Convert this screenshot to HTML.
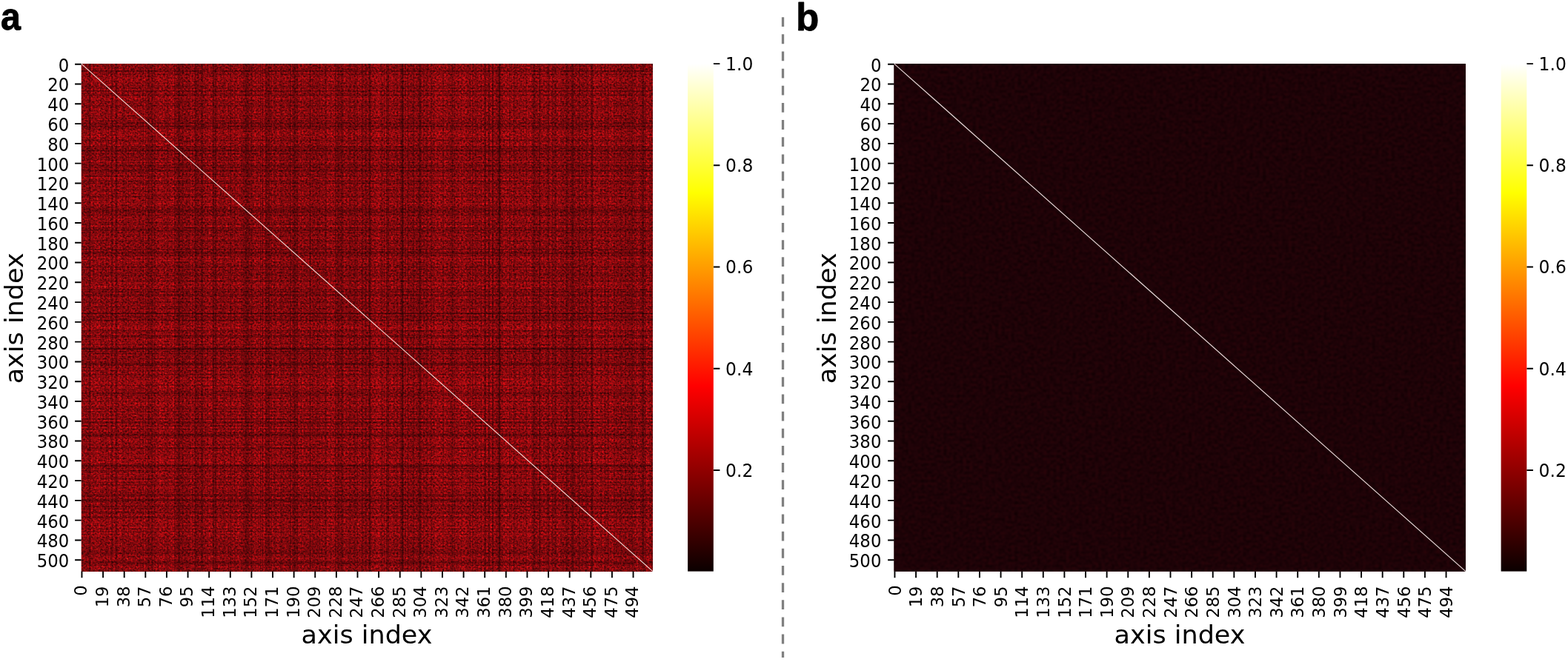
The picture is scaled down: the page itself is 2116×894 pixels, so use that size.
<!DOCTYPE html>
<html lang="en">
<head>
<meta charset="utf-8">
<title>Axis similarity heatmaps</title>
<style>
html,body{margin:0;padding:0;background:#fff;}
body{width:2116px;height:894px;overflow:hidden;font-family:"Liberation Sans",sans-serif;}
svg{display:block;}
</style>
</head>
<body>
<svg width="2116" height="894" viewBox="0 0 2116 894">
<defs>
<linearGradient id="hot" x1="0" y1="1" x2="0" y2="0">
<stop offset="0" stop-color="rgb(11,0,0)"/>
<stop offset="0.365" stop-color="rgb(255,0,0)"/>
<stop offset="0.746" stop-color="rgb(255,255,0)"/>
<stop offset="1" stop-color="rgb(255,255,255)"/>
</linearGradient>
<filter id="na" filterUnits="userSpaceOnUse" x="109.7" y="86.1" width="771.2" height="685.5" color-interpolation-filters="sRGB">
<feTurbulence type="fractalNoise" baseFrequency="0.39 0.43" numOctaves="2" seed="7" stitchTiles="noStitch"/>
<feColorMatrix type="matrix" values="0.44 0 0 0 0.018 0.44 0 0 0 0.018 0.44 0 0 0 0.018 0 0 0 0 1"/>
<feComponentTransfer result="base"><feFuncR type="table" tableValues="0.042 0.083 0.124 0.165 0.206 0.247 0.288 0.329 0.37 0.411 0.452 0.493 0.534 0.575 0.616 0.657 0.698 0.739 0.78 0.821 0.862 0.903 0.944 0.985 1 1 1 1 1 1 1 1 1 1 1 1 1 1 1 1 1 1 1 1 1 1 1 1 1 1 1 1 1 1 1 1 1 1 1 1 1 1 1 1 1"/><feFuncG type="table" tableValues="0 0.003 0.006 0.009 0.013 0.016 0.019 0.022 0.025 0.028 0.031 0.034 0.038 0.041 0.044 0.047 0.05 0.05 0.05 0.05 0.05 0.05 0.05 0.05 0.05 0.067 0.108 0.149 0.19 0.231 0.272 0.313 0.354 0.395 0.436 0.477 0.518 0.559 0.6 0.641 0.682 0.723 0.764 0.805 0.846 0.887 0.928 0.969 1 1 1 1 1 1 1 1 1 1 1 1 1 1 1 1 1"/><feFuncB type="table" tableValues="0 0.005 0.009 0.014 0.019 0.023 0.028 0.033 0.037 0.042 0.047 0.052 0.056 0.061 0.066 0.07 0.075 0.075 0.075 0.075 0.075 0.075 0.075 0.075 0.075 0.075 0.075 0.075 0.075 0.075 0.075 0.075 0.075 0.075 0.075 0.075 0.075 0.075 0.075 0.075 0.075 0.075 0.075 0.075 0.075 0.075 0.075 0.075 0.075 0.077 0.139 0.2 0.262 0.323 0.385 0.446 0.508 0.569 0.631 0.692 0.754 0.815 0.877 0.938 1"/></feComponentTransfer>
<feComposite in="base" in2="SourceGraphic" operator="arithmetic" k1="1" k2="0" k3="0" k4="0" result="mul"/>
<feTurbulence type="fractalNoise" baseFrequency="0.27 0.3" numOctaves="1" seed="23" result="t2"/>
<feColorMatrix in="t2" type="matrix" values="0 0 0 0 1 0 0 0 0 0.22 0 0 0 0 0.14 5 0 0 0 -3.62" result="sp"/>
<feMerge result="mg"><feMergeNode in="mul"/><feMergeNode in="sp"/></feMerge>
<feGaussianBlur in="mg" stdDeviation="0.55"/>
</filter>
<filter id="nb" filterUnits="userSpaceOnUse" x="1206.7" y="86.1" width="771.2" height="685.5" color-interpolation-filters="sRGB">
<feTurbulence type="fractalNoise" baseFrequency="0.23 0.27" numOctaves="2" seed="11" stitchTiles="noStitch"/>
<feColorMatrix type="matrix" values="0.07 0 0 0 -0.006 0.07 0 0 0 -0.006 0.07 0 0 0 -0.006 0 0 0 0 1"/>
<feComponentTransfer result="base"><feFuncR type="table" tableValues="0.042 0.083 0.124 0.165 0.206 0.247 0.288 0.329 0.37 0.411 0.452 0.493 0.534 0.575 0.616 0.657 0.698 0.739 0.78 0.821 0.862 0.903 0.944 0.985 1 1 1 1 1 1 1 1 1 1 1 1 1 1 1 1 1 1 1 1 1 1 1 1 1 1 1 1 1 1 1 1 1 1 1 1 1 1 1 1 1"/><feFuncG type="table" tableValues="0 0.006 0.012 0.012 0.012 0.012 0.012 0.012 0.012 0.012 0.012 0.012 0.012 0.012 0.012 0.012 0.012 0.012 0.012 0.012 0.012 0.012 0.012 0.012 0.026 0.067 0.108 0.149 0.19 0.231 0.272 0.313 0.354 0.395 0.436 0.477 0.518 0.559 0.6 0.641 0.682 0.723 0.764 0.805 0.846 0.887 0.928 0.969 1 1 1 1 1 1 1 1 1 1 1 1 1 1 1 1 1"/><feFuncB type="table" tableValues="0 0.019 0.035 0.035 0.035 0.035 0.035 0.035 0.035 0.035 0.035 0.035 0.035 0.035 0.035 0.035 0.035 0.035 0.035 0.035 0.035 0.035 0.035 0.035 0.035 0.035 0.035 0.035 0.035 0.035 0.035 0.035 0.035 0.035 0.035 0.035 0.035 0.035 0.035 0.035 0.035 0.035 0.035 0.035 0.035 0.035 0.035 0.035 0.035 0.077 0.139 0.2 0.262 0.323 0.385 0.446 0.508 0.569 0.631 0.692 0.754 0.815 0.877 0.938 1"/></feComponentTransfer>
<feGaussianBlur in="base" stdDeviation="0.8"/>
</filter>
</defs>
<rect width="2116" height="894" fill="#fff"/>
<g font-family='"Liberation Sans", sans-serif' font-weight="bold" font-size="52" fill="#000" stroke="#000" stroke-width="0.9" stroke-linejoin="round">
<text transform="translate(1.1,40.4) scale(0.93,1)">a</text>
<text transform="translate(1074.3,40.5) scale(0.975,1)">b</text>
</g>
<line x1="1056.5" y1="23.2" x2="1056.5" y2="888.1" stroke="#808080" stroke-width="3.3" stroke-dasharray="12.8 10.35"/>
<g id="panel-a">
<rect x="109.7" y="86.1" width="771.2" height="685.5" fill="#8c0d10"/>
<g filter="url(#na)" shape-rendering="crispEdges"><rect x="109.7" y="86.1" width="771.2" height="685.5" fill="#fff"/>
<path d="M130.79 86.1h3.01v685.5h-3.01zM159.41 86.1h1.51v685.5h-1.51zM162.42 86.1h1.51v685.5h-1.51zM183.51 86.1h1.51v685.5h-1.51zM213.63 86.1h1.51v685.5h-1.51zM216.64 86.1h1.51v685.5h-1.51zM230.2 86.1h3.01v685.5h-3.01zM284.43 86.1h1.51v685.5h-1.51zM308.53 86.1h1.51v685.5h-1.51zM314.55 86.1h1.51v685.5h-1.51zM317.56 86.1h1.51v685.5h-1.51zM322.08 86.1h1.51v685.5h-1.51zM343.17 86.1h1.51v685.5h-1.51zM349.19 86.1h1.51v685.5h-1.51zM356.73 86.1h1.51v685.5h-1.51zM367.27 86.1h1.51v685.5h-1.51zM374.8 86.1h1.51v685.5h-1.51zM383.84 86.1h1.51v685.5h-1.51zM403.42 86.1h1.51v685.5h-1.51zM436.56 86.1h1.51v685.5h-1.51zM441.07 86.1h1.51v685.5h-1.51zM450.11 86.1h1.51v685.5h-1.51zM483.25 86.1h1.51v685.5h-1.51zM486.26 86.1h1.51v685.5h-1.51zM507.35 86.1h1.51v685.5h-1.51zM516.39 86.1h1.51v685.5h-1.51zM528.44 86.1h1.51v685.5h-1.51zM532.96 86.1h1.51v685.5h-1.51zM537.48 86.1h1.51v685.5h-1.51zM548.02 86.1h1.51v685.5h-1.51zM578.14 86.1h1.51v685.5h-1.51zM588.69 86.1h1.51v685.5h-1.51zM593.21 86.1h1.51v685.5h-1.51zM600.74 86.1h1.51v685.5h-1.51zM618.81 86.1h1.51v685.5h-1.51zM623.33 86.1h4.52v685.5h-4.52zM635.38 86.1h1.51v685.5h-1.51zM639.9 86.1h1.51v685.5h-1.51zM660.99 86.1h1.51v685.5h-1.51zM665.51 86.1h1.51v685.5h-1.51zM679.06 86.1h4.52v685.5h-4.52zM704.67 86.1h1.51v685.5h-1.51zM712.2 86.1h3.01v685.5h-3.01zM751.36 86.1h1.51v685.5h-1.51zM754.38 86.1h1.51v685.5h-1.51zM761.91 86.1h1.51v685.5h-1.51zM767.93 86.1h1.51v685.5h-1.51zM787.51 86.1h1.51v685.5h-1.51zM793.54 86.1h3.01v685.5h-3.01zM802.58 86.1h1.51v685.5h-1.51zM807.09 86.1h3.01v685.5h-3.01zM817.64 86.1h1.51v685.5h-1.51zM825.17 86.1h3.01v685.5h-3.01zM873.37 86.1h1.51v685.5h-1.51z" fill-opacity="0.04"/>
<path d="M109.7 104.84h771.2v2.68h-771.2zM109.7 130.28h771.2v1.34h-771.2zM109.7 132.96h771.2v1.34h-771.2zM109.7 151.7h771.2v1.34h-771.2zM109.7 178.48h771.2v1.34h-771.2zM109.7 181.16h771.2v1.34h-771.2zM109.7 193.21h771.2v2.68h-771.2zM109.7 241.41h771.2v1.34h-771.2zM109.7 262.83h771.2v1.34h-771.2zM109.7 268.19h771.2v1.34h-771.2zM109.7 270.86h771.2v1.34h-771.2zM109.7 274.88h771.2v1.34h-771.2zM109.7 293.62h771.2v1.34h-771.2zM109.7 298.98h771.2v1.34h-771.2zM109.7 305.67h771.2v1.34h-771.2zM109.7 315.05h771.2v1.34h-771.2zM109.7 321.74h771.2v1.34h-771.2zM109.7 329.77h771.2v1.34h-771.2zM109.7 347.18h771.2v1.34h-771.2zM109.7 376.63h771.2v1.34h-771.2zM109.7 380.65h771.2v1.34h-771.2zM109.7 388.68h771.2v1.34h-771.2zM109.7 418.14h771.2v1.34h-771.2zM109.7 420.82h771.2v1.34h-771.2zM109.7 439.56h771.2v1.34h-771.2zM109.7 447.59h771.2v1.34h-771.2zM109.7 458.31h771.2v1.34h-771.2zM109.7 462.32h771.2v1.34h-771.2zM109.7 466.34h771.2v1.34h-771.2zM109.7 475.71h771.2v1.34h-771.2zM109.7 502.49h771.2v1.34h-771.2zM109.7 511.86h771.2v1.34h-771.2zM109.7 515.88h771.2v1.34h-771.2zM109.7 522.57h771.2v1.34h-771.2zM109.7 538.64h771.2v1.34h-771.2zM109.7 542.65h771.2v4.02h-771.2zM109.7 553.36h771.2v1.34h-771.2zM109.7 557.38h771.2v1.34h-771.2zM109.7 576.13h771.2v1.34h-771.2zM109.7 580.14h771.2v1.34h-771.2zM109.7 592.19h771.2v4.02h-771.2zM109.7 614.95h771.2v1.34h-771.2zM109.7 621.65h771.2v2.68h-771.2zM109.7 656.46h771.2v1.34h-771.2zM109.7 659.14h771.2v1.34h-771.2zM109.7 665.83h771.2v1.34h-771.2zM109.7 671.18h771.2v1.34h-771.2zM109.7 688.59h771.2v1.34h-771.2zM109.7 693.95h771.2v2.68h-771.2zM109.7 701.98h771.2v1.34h-771.2zM109.7 706h771.2v2.68h-771.2zM109.7 715.37h771.2v1.34h-771.2zM109.7 722.06h771.2v2.68h-771.2zM109.7 764.91h771.2v1.34h-771.2z" fill-opacity="0.04"/>
<path d="M114.22 86.1h1.51v685.5h-1.51zM126.27 86.1h4.52v685.5h-4.52zM136.81 86.1h1.51v685.5h-1.51zM163.93 86.1h1.51v685.5h-1.51zM171.46 86.1h1.51v685.5h-1.51zM174.47 86.1h1.51v685.5h-1.51zM177.48 86.1h1.51v685.5h-1.51zM182 86.1h1.51v685.5h-1.51zM186.52 86.1h1.51v685.5h-1.51zM189.53 86.1h1.51v685.5h-1.51zM201.58 86.1h1.51v685.5h-1.51zM218.15 86.1h1.51v685.5h-1.51zM222.67 86.1h1.51v685.5h-1.51zM227.19 86.1h3.01v685.5h-3.01zM260.32 86.1h1.51v685.5h-1.51zM278.4 86.1h1.51v685.5h-1.51zM282.92 86.1h1.51v685.5h-1.51zM293.46 86.1h1.51v685.5h-1.51zM304.01 86.1h1.51v685.5h-1.51zM313.04 86.1h1.51v685.5h-1.51zM323.59 86.1h1.51v685.5h-1.51zM341.66 86.1h1.51v685.5h-1.51zM346.18 86.1h1.51v685.5h-1.51zM352.21 86.1h1.51v685.5h-1.51zM373.29 86.1h1.51v685.5h-1.51zM376.31 86.1h1.51v685.5h-1.51zM404.93 86.1h1.51v685.5h-1.51zM415.47 86.1h1.51v685.5h-1.51zM424.51 86.1h1.51v685.5h-1.51zM432.04 86.1h1.51v685.5h-1.51zM444.09 86.1h1.51v685.5h-1.51zM448.61 86.1h1.51v685.5h-1.51zM465.18 86.1h1.51v685.5h-1.51zM468.19 86.1h1.51v685.5h-1.51zM475.72 86.1h1.51v685.5h-1.51zM495.3 86.1h1.51v685.5h-1.51zM501.32 86.1h6.03v685.5h-6.03zM525.43 86.1h3.01v685.5h-3.01zM529.94 86.1h1.51v685.5h-1.51zM538.98 86.1h1.51v685.5h-1.51zM545.01 86.1h1.51v685.5h-1.51zM560.07 86.1h1.51v685.5h-1.51zM569.11 86.1h1.51v685.5h-1.51zM573.62 86.1h1.51v685.5h-1.51zM579.65 86.1h1.51v685.5h-1.51zM582.66 86.1h1.51v685.5h-1.51zM590.19 86.1h1.51v685.5h-1.51zM602.24 86.1h1.51v685.5h-1.51zM614.29 86.1h1.51v685.5h-1.51zM647.43 86.1h1.51v685.5h-1.51zM667.01 86.1h1.51v685.5h-1.51zM689.61 86.1h1.51v685.5h-1.51zM697.14 86.1h1.51v685.5h-1.51zM703.16 86.1h1.51v685.5h-1.51zM730.28 86.1h1.51v685.5h-1.51zM746.84 86.1h1.51v685.5h-1.51zM752.87 86.1h1.51v685.5h-1.51zM776.97 86.1h1.51v685.5h-1.51zM782.99 86.1h1.51v685.5h-1.51zM804.08 86.1h1.51v685.5h-1.51zM829.69 86.1h1.51v685.5h-1.51zM841.74 86.1h1.51v685.5h-1.51zM856.8 86.1h1.51v685.5h-1.51zM861.32 86.1h1.51v685.5h-1.51zM874.88 86.1h1.51v685.5h-1.51z" fill-opacity="0.08"/>
<path d="M109.7 90.12h771.2v1.34h-771.2zM109.7 100.83h771.2v4.02h-771.2zM109.7 110.2h771.2v1.34h-771.2zM109.7 134.3h771.2v1.34h-771.2zM109.7 140.99h771.2v1.34h-771.2zM109.7 143.67h771.2v1.34h-771.2zM109.7 146.35h771.2v1.34h-771.2zM109.7 150.37h771.2v1.34h-771.2zM109.7 154.38h771.2v1.34h-771.2zM109.7 157.06h771.2v1.34h-771.2zM109.7 167.77h771.2v1.34h-771.2zM109.7 182.5h771.2v1.34h-771.2zM109.7 186.52h771.2v1.34h-771.2zM109.7 190.53h771.2v2.68h-771.2zM109.7 219.99h771.2v1.34h-771.2zM109.7 236.05h771.2v1.34h-771.2zM109.7 240.07h771.2v1.34h-771.2zM109.7 249.44h771.2v1.34h-771.2zM109.7 258.81h771.2v1.34h-771.2zM109.7 266.85h771.2v1.34h-771.2zM109.7 276.22h771.2v1.34h-771.2zM109.7 292.29h771.2v1.34h-771.2zM109.7 296.3h771.2v1.34h-771.2zM109.7 301.66h771.2v1.34h-771.2zM109.7 320.4h771.2v1.34h-771.2zM109.7 323.08h771.2v1.34h-771.2zM109.7 348.52h771.2v1.34h-771.2zM109.7 357.89h771.2v1.34h-771.2zM109.7 365.92h771.2v1.34h-771.2zM109.7 372.62h771.2v1.34h-771.2zM109.7 383.33h771.2v1.34h-771.2zM109.7 387.35h771.2v1.34h-771.2zM109.7 402.07h771.2v1.34h-771.2zM109.7 404.75h771.2v1.34h-771.2zM109.7 411.44h771.2v1.34h-771.2zM109.7 428.85h771.2v1.34h-771.2zM109.7 434.21h771.2v5.36h-771.2zM109.7 455.63h771.2v2.68h-771.2zM109.7 459.64h771.2v1.34h-771.2zM109.7 467.68h771.2v1.34h-771.2zM109.7 473.03h771.2v1.34h-771.2zM109.7 486.42h771.2v1.34h-771.2zM109.7 494.45h771.2v1.34h-771.2zM109.7 498.47h771.2v1.34h-771.2zM109.7 503.83h771.2v1.34h-771.2zM109.7 506.5h771.2v1.34h-771.2zM109.7 513.2h771.2v1.34h-771.2zM109.7 523.91h771.2v1.34h-771.2zM109.7 534.62h771.2v1.34h-771.2zM109.7 564.08h771.2v1.34h-771.2zM109.7 581.48h771.2v1.34h-771.2zM109.7 601.56h771.2v1.34h-771.2zM109.7 608.26h771.2v1.34h-771.2zM109.7 613.61h771.2v1.34h-771.2zM109.7 637.71h771.2v1.34h-771.2zM109.7 652.44h771.2v1.34h-771.2zM109.7 657.8h771.2v1.34h-771.2zM109.7 679.22h771.2v1.34h-771.2zM109.7 684.57h771.2v1.34h-771.2zM109.7 703.32h771.2v1.34h-771.2zM109.7 726.08h771.2v1.34h-771.2zM109.7 736.79h771.2v1.34h-771.2zM109.7 750.18h771.2v1.34h-771.2zM109.7 754.19h771.2v1.34h-771.2zM109.7 766.24h771.2v1.34h-771.2z" fill-opacity="0.08"/>
<path d="M117.23 86.1h1.51v685.5h-1.51zM141.33 86.1h1.51v685.5h-1.51zM144.34 86.1h1.51v685.5h-1.51zM148.86 86.1h1.51v685.5h-1.51zM151.88 86.1h1.51v685.5h-1.51zM166.94 86.1h4.52v685.5h-4.52zM175.98 86.1h1.51v685.5h-1.51zM178.99 86.1h3.01v685.5h-3.01zM185.01 86.1h1.51v685.5h-1.51zM191.04 86.1h1.51v685.5h-1.51zM197.06 86.1h1.51v685.5h-1.51zM206.1 86.1h1.51v685.5h-1.51zM209.11 86.1h1.51v685.5h-1.51zM212.12 86.1h1.51v685.5h-1.51zM221.16 86.1h1.51v685.5h-1.51zM224.18 86.1h1.51v685.5h-1.51zM243.76 86.1h1.51v685.5h-1.51zM248.28 86.1h1.51v685.5h-1.51zM267.86 86.1h3.01v685.5h-3.01zM273.88 86.1h4.52v685.5h-4.52zM285.93 86.1h1.51v685.5h-1.51zM297.98 86.1h3.01v685.5h-3.01zM319.07 86.1h1.51v685.5h-1.51zM326.6 86.1h1.51v685.5h-1.51zM344.68 86.1h1.51v685.5h-1.51zM371.79 86.1h1.51v685.5h-1.51zM380.82 86.1h1.51v685.5h-1.51zM386.85 86.1h1.51v685.5h-1.51zM401.91 86.1h1.51v685.5h-1.51zM409.44 86.1h4.52v685.5h-4.52zM435.05 86.1h1.51v685.5h-1.51zM457.64 86.1h1.51v685.5h-1.51zM469.69 86.1h1.51v685.5h-1.51zM474.21 86.1h1.51v685.5h-1.51zM484.76 86.1h1.51v685.5h-1.51zM513.38 86.1h1.51v685.5h-1.51zM551.03 86.1h3.01v685.5h-3.01zM555.55 86.1h1.51v685.5h-1.51zM558.56 86.1h1.51v685.5h-1.51zM572.12 86.1h1.51v685.5h-1.51zM584.17 86.1h3.01v685.5h-3.01zM596.22 86.1h1.51v685.5h-1.51zM603.75 86.1h4.52v685.5h-4.52zM615.8 86.1h3.01v685.5h-3.01zM629.36 86.1h4.52v685.5h-4.52zM638.39 86.1h1.51v685.5h-1.51zM642.91 86.1h3.01v685.5h-3.01zM657.98 86.1h1.51v685.5h-1.51zM668.52 86.1h1.51v685.5h-1.51zM676.05 86.1h3.01v685.5h-3.01zM683.58 86.1h1.51v685.5h-1.51zM688.1 86.1h1.51v685.5h-1.51zM695.63 86.1h1.51v685.5h-1.51zM700.15 86.1h3.01v685.5h-3.01zM706.18 86.1h1.51v685.5h-1.51zM716.72 86.1h1.51v685.5h-1.51zM733.29 86.1h1.51v685.5h-1.51zM736.3 86.1h1.51v685.5h-1.51zM740.82 86.1h1.51v685.5h-1.51zM743.83 86.1h1.51v685.5h-1.51zM755.88 86.1h1.51v685.5h-1.51zM758.89 86.1h1.51v685.5h-1.51zM778.48 86.1h1.51v685.5h-1.51zM805.59 86.1h1.51v685.5h-1.51zM823.66 86.1h1.51v685.5h-1.51zM832.7 86.1h4.52v685.5h-4.52zM838.73 86.1h3.01v685.5h-3.01zM844.75 86.1h1.51v685.5h-1.51zM858.31 86.1h1.51v685.5h-1.51zM862.83 86.1h1.51v685.5h-1.51zM877.89 86.1h1.51v685.5h-1.51z" fill-opacity="0.12"/>
<path d="M109.7 92.79h771.2v1.34h-771.2zM109.7 114.22h771.2v1.34h-771.2zM109.7 116.89h771.2v1.34h-771.2zM109.7 120.91h771.2v1.34h-771.2zM109.7 123.59h771.2v1.34h-771.2zM109.7 136.98h771.2v4.02h-771.2zM109.7 145.01h771.2v1.34h-771.2zM109.7 147.69h771.2v2.68h-771.2zM109.7 153.04h771.2v1.34h-771.2zM109.7 158.4h771.2v1.34h-771.2zM109.7 163.75h771.2v1.34h-771.2zM109.7 171.79h771.2v1.34h-771.2zM109.7 174.47h771.2v1.34h-771.2zM109.7 177.14h771.2v1.34h-771.2zM109.7 185.18h771.2v1.34h-771.2zM109.7 187.85h771.2v1.34h-771.2zM109.7 205.26h771.2v1.34h-771.2zM109.7 209.28h771.2v1.34h-771.2zM109.7 226.68h771.2v2.68h-771.2zM109.7 232.04h771.2v4.02h-771.2zM109.7 242.75h771.2v1.34h-771.2zM109.7 253.46h771.2v2.68h-771.2zM109.7 272.2h771.2v1.34h-771.2zM109.7 278.9h771.2v1.34h-771.2zM109.7 294.96h771.2v1.34h-771.2zM109.7 319.06h771.2v1.34h-771.2zM109.7 327.1h771.2v1.34h-771.2zM109.7 332.45h771.2v1.34h-771.2zM109.7 345.84h771.2v1.34h-771.2zM109.7 352.53h771.2v4.02h-771.2zM109.7 375.3h771.2v1.34h-771.2zM109.7 395.38h771.2v1.34h-771.2zM109.7 406.09h771.2v1.34h-771.2zM109.7 410.11h771.2v1.34h-771.2zM109.7 419.48h771.2v1.34h-771.2zM109.7 444.92h771.2v1.34h-771.2zM109.7 478.39h771.2v2.68h-771.2zM109.7 482.4h771.2v1.34h-771.2zM109.7 485.08h771.2v1.34h-771.2zM109.7 497.13h771.2v1.34h-771.2zM109.7 507.84h771.2v2.68h-771.2zM109.7 518.55h771.2v1.34h-771.2zM109.7 525.25h771.2v4.02h-771.2zM109.7 535.96h771.2v2.68h-771.2zM109.7 548.01h771.2v4.02h-771.2zM109.7 556.04h771.2v1.34h-771.2zM109.7 560.06h771.2v2.68h-771.2zM109.7 573.45h771.2v1.34h-771.2zM109.7 582.82h771.2v1.34h-771.2zM109.7 589.51h771.2v2.68h-771.2zM109.7 596.21h771.2v1.34h-771.2zM109.7 600.23h771.2v1.34h-771.2zM109.7 606.92h771.2v1.34h-771.2zM109.7 610.94h771.2v2.68h-771.2zM109.7 616.29h771.2v1.34h-771.2zM109.7 625.66h771.2v1.34h-771.2zM109.7 640.39h771.2v1.34h-771.2zM109.7 643.07h771.2v1.34h-771.2zM109.7 647.09h771.2v1.34h-771.2zM109.7 649.76h771.2v1.34h-771.2zM109.7 660.47h771.2v1.34h-771.2zM109.7 663.15h771.2v1.34h-771.2zM109.7 680.56h771.2v1.34h-771.2zM109.7 704.66h771.2v1.34h-771.2zM109.7 720.72h771.2v1.34h-771.2zM109.7 728.76h771.2v4.02h-771.2zM109.7 734.11h771.2v2.68h-771.2zM109.7 739.47h771.2v1.34h-771.2zM109.7 751.52h771.2v1.34h-771.2zM109.7 755.53h771.2v1.34h-771.2zM109.7 768.92h771.2v1.34h-771.2z" fill-opacity="0.12"/>
<path d="M111.21 86.1h3.01v685.5h-3.01zM115.73 86.1h1.51v685.5h-1.51zM118.74 86.1h1.51v685.5h-1.51zM121.75 86.1h1.51v685.5h-1.51zM135.31 86.1h1.51v685.5h-1.51zM138.32 86.1h1.51v685.5h-1.51zM154.89 86.1h1.51v685.5h-1.51zM157.9 86.1h1.51v685.5h-1.51zM236.23 86.1h3.01v685.5h-3.01zM249.78 86.1h1.51v685.5h-1.51zM252.79 86.1h3.01v685.5h-3.01zM261.83 86.1h1.51v685.5h-1.51zM288.94 86.1h1.51v685.5h-1.51zM291.96 86.1h1.51v685.5h-1.51zM296.48 86.1h1.51v685.5h-1.51zM302.5 86.1h1.51v685.5h-1.51zM307.02 86.1h1.51v685.5h-1.51zM311.54 86.1h1.51v685.5h-1.51zM325.09 86.1h1.51v685.5h-1.51zM335.64 86.1h3.01v685.5h-3.01zM340.16 86.1h1.51v685.5h-1.51zM347.69 86.1h1.51v685.5h-1.51zM364.26 86.1h1.51v685.5h-1.51zM368.77 86.1h1.51v685.5h-1.51zM382.33 86.1h1.51v685.5h-1.51zM385.34 86.1h1.51v685.5h-1.51zM388.36 86.1h3.01v685.5h-3.01zM398.9 86.1h1.51v685.5h-1.51zM406.43 86.1h1.51v685.5h-1.51zM413.96 86.1h1.51v685.5h-1.51zM423 86.1h1.51v685.5h-1.51zM426.01 86.1h1.51v685.5h-1.51zM429.03 86.1h1.51v685.5h-1.51zM433.54 86.1h1.51v685.5h-1.51zM445.59 86.1h1.51v685.5h-1.51zM453.12 86.1h1.51v685.5h-1.51zM466.68 86.1h1.51v685.5h-1.51zM472.71 86.1h1.51v685.5h-1.51zM480.24 86.1h1.51v685.5h-1.51zM531.45 86.1h1.51v685.5h-1.51zM534.46 86.1h1.51v685.5h-1.51zM554.04 86.1h1.51v685.5h-1.51zM563.08 86.1h1.51v685.5h-1.51zM576.64 86.1h1.51v685.5h-1.51zM611.28 86.1h1.51v685.5h-1.51zM694.13 86.1h1.51v685.5h-1.51zM722.74 86.1h3.01v685.5h-3.01zM737.81 86.1h1.51v685.5h-1.51zM757.39 86.1h1.51v685.5h-1.51zM760.4 86.1h1.51v685.5h-1.51zM769.44 86.1h1.51v685.5h-1.51zM775.46 86.1h1.51v685.5h-1.51zM779.98 86.1h1.51v685.5h-1.51zM786.01 86.1h1.51v685.5h-1.51zM789.02 86.1h1.51v685.5h-1.51zM792.03 86.1h1.51v685.5h-1.51zM799.56 86.1h1.51v685.5h-1.51zM810.11 86.1h3.01v685.5h-3.01zM814.63 86.1h1.51v685.5h-1.51zM831.19 86.1h1.51v685.5h-1.51zM846.26 86.1h1.51v685.5h-1.51zM850.78 86.1h1.51v685.5h-1.51zM853.79 86.1h3.01v685.5h-3.01zM864.33 86.1h1.51v685.5h-1.51zM868.85 86.1h1.51v685.5h-1.51zM876.38 86.1h1.51v685.5h-1.51z" fill-opacity="0.16"/>
<path d="M109.7 87.44h771.2v2.68h-771.2zM109.7 91.46h771.2v1.34h-771.2zM109.7 94.13h771.2v1.34h-771.2zM109.7 96.81h771.2v1.34h-771.2zM109.7 108.86h771.2v1.34h-771.2zM109.7 111.54h771.2v1.34h-771.2zM109.7 126.27h771.2v1.34h-771.2zM109.7 128.94h771.2v1.34h-771.2zM109.7 198.56h771.2v2.68h-771.2zM109.7 210.61h771.2v1.34h-771.2zM109.7 213.29h771.2v2.68h-771.2zM109.7 221.33h771.2v1.34h-771.2zM109.7 245.43h771.2v1.34h-771.2zM109.7 248.1h771.2v1.34h-771.2zM109.7 252.12h771.2v1.34h-771.2zM109.7 257.48h771.2v1.34h-771.2zM109.7 261.49h771.2v1.34h-771.2zM109.7 265.51h771.2v1.34h-771.2zM109.7 277.56h771.2v1.34h-771.2zM109.7 286.93h771.2v2.68h-771.2zM109.7 290.95h771.2v1.34h-771.2zM109.7 297.64h771.2v1.34h-771.2zM109.7 312.37h771.2v1.34h-771.2zM109.7 316.39h771.2v1.34h-771.2zM109.7 328.43h771.2v1.34h-771.2zM109.7 331.11h771.2v1.34h-771.2zM109.7 333.79h771.2v2.68h-771.2zM109.7 343.16h771.2v1.34h-771.2zM109.7 349.86h771.2v1.34h-771.2zM109.7 356.55h771.2v1.34h-771.2zM109.7 364.58h771.2v1.34h-771.2zM109.7 367.26h771.2v1.34h-771.2zM109.7 369.94h771.2v1.34h-771.2zM109.7 373.96h771.2v1.34h-771.2zM109.7 384.67h771.2v1.34h-771.2zM109.7 391.36h771.2v1.34h-771.2zM109.7 403.41h771.2v1.34h-771.2zM109.7 408.77h771.2v1.34h-771.2zM109.7 415.46h771.2v1.34h-771.2zM109.7 460.98h771.2v1.34h-771.2zM109.7 463.66h771.2v1.34h-771.2zM109.7 481.07h771.2v1.34h-771.2zM109.7 489.1h771.2v1.34h-771.2zM109.7 501.15h771.2v1.34h-771.2zM109.7 531.94h771.2v1.34h-771.2zM109.7 605.58h771.2v1.34h-771.2zM109.7 631.02h771.2v2.68h-771.2zM109.7 644.41h771.2v1.34h-771.2zM109.7 661.81h771.2v1.34h-771.2zM109.7 664.49h771.2v1.34h-771.2zM109.7 672.52h771.2v1.34h-771.2zM109.7 677.88h771.2v1.34h-771.2zM109.7 681.9h771.2v1.34h-771.2zM109.7 687.25h771.2v1.34h-771.2zM109.7 689.93h771.2v1.34h-771.2zM109.7 692.61h771.2v1.34h-771.2zM109.7 699.3h771.2v1.34h-771.2zM109.7 708.67h771.2v2.68h-771.2zM109.7 712.69h771.2v1.34h-771.2zM109.7 727.42h771.2v1.34h-771.2zM109.7 740.81h771.2v1.34h-771.2zM109.7 744.82h771.2v1.34h-771.2zM109.7 747.5h771.2v2.68h-771.2zM109.7 756.87h771.2v1.34h-771.2zM109.7 760.89h771.2v1.34h-771.2zM109.7 767.58h771.2v1.34h-771.2z" fill-opacity="0.16"/>
<path d="M109.7 86.1h1.51v685.5h-1.51zM124.76 86.1h1.51v685.5h-1.51zM145.85 86.1h1.51v685.5h-1.51zM165.43 86.1h1.51v685.5h-1.51zM188.03 86.1h1.51v685.5h-1.51zM195.56 86.1h1.51v685.5h-1.51zM246.77 86.1h1.51v685.5h-1.51zM251.29 86.1h1.51v685.5h-1.51zM258.82 86.1h1.51v685.5h-1.51zM264.84 86.1h1.51v685.5h-1.51zM300.99 86.1h1.51v685.5h-1.51zM316.06 86.1h1.51v685.5h-1.51zM328.11 86.1h3.01v685.5h-3.01zM359.74 86.1h1.51v685.5h-1.51zM370.28 86.1h1.51v685.5h-1.51zM379.32 86.1h1.51v685.5h-1.51zM394.38 86.1h1.51v685.5h-1.51zM421.49 86.1h1.51v685.5h-1.51zM459.15 86.1h1.51v685.5h-1.51zM462.16 86.1h1.51v685.5h-1.51zM478.73 86.1h1.51v685.5h-1.51zM489.28 86.1h1.51v685.5h-1.51zM496.81 86.1h1.51v685.5h-1.51zM499.82 86.1h1.51v685.5h-1.51zM561.58 86.1h1.51v685.5h-1.51zM567.6 86.1h1.51v685.5h-1.51zM608.27 86.1h1.51v685.5h-1.51zM612.79 86.1h1.51v685.5h-1.51zM621.83 86.1h1.51v685.5h-1.51zM641.41 86.1h1.51v685.5h-1.51zM670.03 86.1h1.51v685.5h-1.51zM709.19 86.1h1.51v685.5h-1.51zM718.23 86.1h1.51v685.5h-1.51zM721.24 86.1h1.51v685.5h-1.51zM728.77 86.1h1.51v685.5h-1.51zM766.43 86.1h1.51v685.5h-1.51zM773.96 86.1h1.51v685.5h-1.51zM816.13 86.1h1.51v685.5h-1.51zM819.14 86.1h3.01v685.5h-3.01zM828.18 86.1h1.51v685.5h-1.51zM847.76 86.1h3.01v685.5h-3.01zM870.36 86.1h1.51v685.5h-1.51zM879.39 86.1h1.51v685.5h-1.51z" fill-opacity="0.20"/>
<path d="M109.7 86.1h771.2v1.34h-771.2zM109.7 99.49h771.2v1.34h-771.2zM109.7 118.23h771.2v1.34h-771.2zM109.7 135.64h771.2v1.34h-771.2zM109.7 155.72h771.2v1.34h-771.2zM109.7 162.42h771.2v1.34h-771.2zM109.7 207.94h771.2v1.34h-771.2zM109.7 211.95h771.2v1.34h-771.2zM109.7 218.65h771.2v1.34h-771.2zM109.7 224h771.2v1.34h-771.2zM109.7 256.14h771.2v1.34h-771.2zM109.7 269.52h771.2v1.34h-771.2zM109.7 280.24h771.2v2.68h-771.2zM109.7 308.35h771.2v1.34h-771.2zM109.7 317.72h771.2v1.34h-771.2zM109.7 325.76h771.2v1.34h-771.2zM109.7 339.15h771.2v1.34h-771.2zM109.7 363.25h771.2v1.34h-771.2zM109.7 396.72h771.2v1.34h-771.2zM109.7 399.39h771.2v1.34h-771.2zM109.7 414.12h771.2v1.34h-771.2zM109.7 423.49h771.2v1.34h-771.2zM109.7 430.19h771.2v1.34h-771.2zM109.7 432.87h771.2v1.34h-771.2zM109.7 487.76h771.2v1.34h-771.2zM109.7 493.12h771.2v1.34h-771.2zM109.7 529.27h771.2v1.34h-771.2zM109.7 533.28h771.2v1.34h-771.2zM109.7 541.31h771.2v1.34h-771.2zM109.7 558.72h771.2v1.34h-771.2zM109.7 584.16h771.2v1.34h-771.2zM109.7 618.97h771.2v1.34h-771.2zM109.7 627h771.2v1.34h-771.2zM109.7 629.68h771.2v1.34h-771.2zM109.7 636.37h771.2v1.34h-771.2zM109.7 669.85h771.2v1.34h-771.2zM109.7 676.54h771.2v1.34h-771.2zM109.7 714.03h771.2v1.34h-771.2zM109.7 716.71h771.2v2.68h-771.2zM109.7 724.74h771.2v1.34h-771.2zM109.7 742.14h771.2v2.68h-771.2zM109.7 762.23h771.2v1.34h-771.2zM109.7 770.26h771.2v1.34h-771.2z" fill-opacity="0.20"/>
<path d="M142.84 86.1h1.51v685.5h-1.51zM172.96 86.1h1.51v685.5h-1.51zM192.54 86.1h1.51v685.5h-1.51zM198.57 86.1h1.51v685.5h-1.51zM203.09 86.1h1.51v685.5h-1.51zM207.61 86.1h1.51v685.5h-1.51zM225.68 86.1h1.51v685.5h-1.51zM239.24 86.1h1.51v685.5h-1.51zM242.25 86.1h1.51v685.5h-1.51zM255.81 86.1h1.51v685.5h-1.51zM266.35 86.1h1.51v685.5h-1.51zM279.91 86.1h1.51v685.5h-1.51zM310.03 86.1h1.51v685.5h-1.51zM350.7 86.1h1.51v685.5h-1.51zM365.76 86.1h1.51v685.5h-1.51zM377.81 86.1h1.51v685.5h-1.51zM416.98 86.1h1.51v685.5h-1.51zM427.52 86.1h1.51v685.5h-1.51zM430.53 86.1h1.51v685.5h-1.51zM438.06 86.1h3.01v685.5h-3.01zM454.63 86.1h1.51v685.5h-1.51zM471.2 86.1h1.51v685.5h-1.51zM477.23 86.1h1.51v685.5h-1.51zM481.74 86.1h1.51v685.5h-1.51zM492.29 86.1h1.51v685.5h-1.51zM517.89 86.1h1.51v685.5h-1.51zM520.91 86.1h1.51v685.5h-1.51zM535.97 86.1h1.51v685.5h-1.51zM540.49 86.1h1.51v685.5h-1.51zM543.5 86.1h1.51v685.5h-1.51zM546.51 86.1h1.51v685.5h-1.51zM570.61 86.1h1.51v685.5h-1.51zM575.13 86.1h1.51v685.5h-1.51zM581.16 86.1h1.51v685.5h-1.51zM671.53 86.1h1.51v685.5h-1.51zM674.54 86.1h1.51v685.5h-1.51zM686.59 86.1h1.51v685.5h-1.51zM745.34 86.1h1.51v685.5h-1.51zM748.35 86.1h3.01v685.5h-3.01zM784.5 86.1h1.51v685.5h-1.51zM796.55 86.1h1.51v685.5h-1.51zM837.22 86.1h1.51v685.5h-1.51zM843.24 86.1h1.51v685.5h-1.51z" fill-opacity="0.24"/>
<path d="M109.7 115.56h771.2v1.34h-771.2zM109.7 142.33h771.2v1.34h-771.2zM109.7 159.74h771.2v1.34h-771.2zM109.7 165.09h771.2v1.34h-771.2zM109.7 169.11h771.2v1.34h-771.2zM109.7 173.13h771.2v1.34h-771.2zM109.7 189.19h771.2v1.34h-771.2zM109.7 201.24h771.2v1.34h-771.2zM109.7 203.92h771.2v1.34h-771.2zM109.7 215.97h771.2v1.34h-771.2zM109.7 225.34h771.2v1.34h-771.2zM109.7 237.39h771.2v1.34h-771.2zM109.7 264.17h771.2v1.34h-771.2zM109.7 300.32h771.2v1.34h-771.2zM109.7 313.71h771.2v1.34h-771.2zM109.7 324.42h771.2v1.34h-771.2zM109.7 359.23h771.2v1.34h-771.2zM109.7 368.6h771.2v1.34h-771.2zM109.7 371.28h771.2v1.34h-771.2zM109.7 377.97h771.2v2.68h-771.2zM109.7 392.7h771.2v1.34h-771.2zM109.7 407.43h771.2v1.34h-771.2zM109.7 412.78h771.2v1.34h-771.2zM109.7 416.8h771.2v1.34h-771.2zM109.7 426.17h771.2v1.34h-771.2zM109.7 448.93h771.2v1.34h-771.2zM109.7 451.61h771.2v1.34h-771.2zM109.7 465h771.2v1.34h-771.2zM109.7 469.02h771.2v1.34h-771.2zM109.7 471.69h771.2v1.34h-771.2zM109.7 474.37h771.2v1.34h-771.2zM109.7 495.79h771.2v1.34h-771.2zM109.7 499.81h771.2v1.34h-771.2zM109.7 505.17h771.2v1.34h-771.2zM109.7 585.5h771.2v1.34h-771.2zM109.7 588.18h771.2v1.34h-771.2zM109.7 598.89h771.2v1.34h-771.2zM109.7 651.1h771.2v1.34h-771.2zM109.7 653.78h771.2v2.68h-771.2zM109.7 685.91h771.2v1.34h-771.2zM109.7 696.62h771.2v1.34h-771.2zM109.7 732.77h771.2v1.34h-771.2zM109.7 738.13h771.2v1.34h-771.2z" fill-opacity="0.24"/>
<path d="M150.37 86.1h1.51v685.5h-1.51zM200.07 86.1h1.51v685.5h-1.51zM234.72 86.1h1.51v685.5h-1.51zM245.26 86.1h1.51v685.5h-1.51zM332.62 86.1h3.01v685.5h-3.01zM361.24 86.1h1.51v685.5h-1.51zM391.37 86.1h1.51v685.5h-1.51zM400.41 86.1h1.51v685.5h-1.51zM418.48 86.1h1.51v685.5h-1.51zM456.14 86.1h1.51v685.5h-1.51zM493.79 86.1h1.51v685.5h-1.51zM514.88 86.1h1.51v685.5h-1.51zM522.41 86.1h3.01v685.5h-3.01zM557.06 86.1h1.51v685.5h-1.51zM597.73 86.1h1.51v685.5h-1.51zM633.88 86.1h1.51v685.5h-1.51zM636.89 86.1h1.51v685.5h-1.51zM648.94 86.1h1.51v685.5h-1.51zM653.46 86.1h1.51v685.5h-1.51zM739.31 86.1h1.51v685.5h-1.51zM763.41 86.1h1.51v685.5h-1.51zM781.49 86.1h1.51v685.5h-1.51zM790.53 86.1h1.51v685.5h-1.51zM852.28 86.1h1.51v685.5h-1.51zM865.84 86.1h1.51v685.5h-1.51z" fill-opacity="0.28"/>
<path d="M109.7 122.25h771.2v1.34h-771.2zM109.7 166.43h771.2v1.34h-771.2zM109.7 197.23h771.2v1.34h-771.2zM109.7 206.6h771.2v1.34h-771.2zM109.7 284.25h771.2v2.68h-771.2zM109.7 309.69h771.2v1.34h-771.2zM109.7 336.47h771.2v1.34h-771.2zM109.7 344.5h771.2v1.34h-771.2zM109.7 360.57h771.2v1.34h-771.2zM109.7 394.04h771.2v1.34h-771.2zM109.7 427.51h771.2v1.34h-771.2zM109.7 446.26h771.2v1.34h-771.2zM109.7 452.95h771.2v2.68h-771.2zM109.7 483.74h771.2v1.34h-771.2zM109.7 519.89h771.2v1.34h-771.2zM109.7 552.03h771.2v1.34h-771.2zM109.7 554.7h771.2v1.34h-771.2zM109.7 565.41h771.2v1.34h-771.2zM109.7 569.43h771.2v1.34h-771.2zM109.7 645.75h771.2v1.34h-771.2zM109.7 667.17h771.2v1.34h-771.2zM109.7 683.23h771.2v1.34h-771.2zM109.7 691.27h771.2v1.34h-771.2zM109.7 746.16h771.2v1.34h-771.2zM109.7 758.21h771.2v1.34h-771.2z" fill-opacity="0.28"/>
<path d="M120.24 86.1h1.51v685.5h-1.51zM156.39 86.1h1.51v685.5h-1.51zM204.59 86.1h1.51v685.5h-1.51zM263.34 86.1h1.51v685.5h-1.51zM270.87 86.1h3.01v685.5h-3.01zM287.44 86.1h1.51v685.5h-1.51zM290.45 86.1h1.51v685.5h-1.51zM331.12 86.1h1.51v685.5h-1.51zM338.65 86.1h1.51v685.5h-1.51zM353.71 86.1h1.51v685.5h-1.51zM358.23 86.1h1.51v685.5h-1.51zM362.75 86.1h1.51v685.5h-1.51zM395.89 86.1h3.01v685.5h-3.01zM451.62 86.1h1.51v685.5h-1.51zM609.78 86.1h1.51v685.5h-1.51zM659.48 86.1h1.51v685.5h-1.51zM692.62 86.1h1.51v685.5h-1.51zM727.26 86.1h1.51v685.5h-1.51zM764.92 86.1h1.51v685.5h-1.51zM770.94 86.1h1.51v685.5h-1.51z" fill-opacity="0.32"/>
<path d="M109.7 95.47h771.2v1.34h-771.2zM109.7 127.6h771.2v1.34h-771.2zM109.7 170.45h771.2v1.34h-771.2zM109.7 222.66h771.2v1.34h-771.2zM109.7 229.36h771.2v2.68h-771.2zM109.7 244.09h771.2v1.34h-771.2zM109.7 246.76h771.2v1.34h-771.2zM109.7 282.91h771.2v1.34h-771.2zM109.7 289.61h771.2v1.34h-771.2zM109.7 303h771.2v1.34h-771.2zM109.7 307.01h771.2v1.34h-771.2zM109.7 311.03h771.2v1.34h-771.2zM109.7 340.48h771.2v2.68h-771.2zM109.7 390.02h771.2v1.34h-771.2zM109.7 530.6h771.2v1.34h-771.2zM109.7 574.79h771.2v1.34h-771.2zM109.7 604.24h771.2v1.34h-771.2zM109.7 635.04h771.2v1.34h-771.2zM109.7 668.51h771.2v1.34h-771.2zM109.7 673.86h771.2v1.34h-771.2z" fill-opacity="0.32"/>
<path d="M487.77 86.1h1.51v685.5h-1.51zM564.59 86.1h3.01v685.5h-3.01zM654.96 86.1h1.51v685.5h-1.51zM664 86.1h1.51v685.5h-1.51zM772.45 86.1h1.51v685.5h-1.51zM798.06 86.1h1.51v685.5h-1.51zM867.34 86.1h1.51v685.5h-1.51z" fill-opacity="0.36"/>
<path d="M109.7 422.16h771.2v1.34h-771.2zM109.7 490.44h771.2v2.68h-771.2zM109.7 570.77h771.2v1.34h-771.2zM109.7 578.8h771.2v1.34h-771.2zM109.7 675.2h771.2v1.34h-771.2zM109.7 697.96h771.2v1.34h-771.2zM109.7 759.55h771.2v1.34h-771.2z" fill-opacity="0.36"/>
<path d="M460.66 86.1h1.51v685.5h-1.51zM498.31 86.1h1.51v685.5h-1.51zM549.53 86.1h1.51v685.5h-1.51zM719.73 86.1h1.51v685.5h-1.51z" fill-opacity="0.40"/>
<path d="M109.7 398.06h771.2v1.34h-771.2zM109.7 431.53h771.2v1.34h-771.2zM109.7 477.05h771.2v1.34h-771.2zM109.7 628.34h771.2v1.34h-771.2z" fill-opacity="0.40"/>
<path d="M240.74 86.1h1.51v685.5h-1.51zM541.99 86.1h1.51v685.5h-1.51zM673.04 86.1h1.51v685.5h-1.51z" fill-opacity="0.48"/>
<path d="M109.7 202.58h771.2v1.34h-771.2zM109.7 470.35h771.2v1.34h-771.2zM109.7 586.84h771.2v1.34h-771.2z" fill-opacity="0.48"/>
</g>
<line x1="109.7" y1="86.1" x2="880.9" y2="771.6" stroke="#ffe6e0" stroke-width="1.1" stroke-opacity="0.95"/>
<path d="M101.1 86.77H109.7M101.1 113.55H109.7M101.1 140.32H109.7M101.1 167.1H109.7M101.1 193.88H109.7M101.1 220.66H109.7M101.1 247.43H109.7M101.1 274.21H109.7M101.1 300.99H109.7M101.1 327.77H109.7M101.1 354.54H109.7M101.1 381.32H109.7M101.1 408.1H109.7M101.1 434.87H109.7M101.1 461.65H109.7M101.1 488.43H109.7M101.1 515.21H109.7M101.1 541.98H109.7M101.1 568.76H109.7M101.1 595.54H109.7M101.1 622.32H109.7M101.1 649.09H109.7M101.1 675.87H109.7M101.1 702.65H109.7M101.1 729.43H109.7M101.1 756.2H109.7M110.45 771.6v8.6M139.07 771.6v8.6M167.69 771.6v8.6M196.31 771.6v8.6M224.93 771.6v8.6M253.55 771.6v8.6M282.17 771.6v8.6M310.78 771.6v8.6M339.4 771.6v8.6M368.02 771.6v8.6M396.64 771.6v8.6M425.26 771.6v8.6M453.88 771.6v8.6M482.5 771.6v8.6M511.12 771.6v8.6M539.73 771.6v8.6M568.35 771.6v8.6M596.97 771.6v8.6M625.59 771.6v8.6M654.21 771.6v8.6M682.83 771.6v8.6M711.45 771.6v8.6M740.07 771.6v8.6M768.68 771.6v8.6M797.3 771.6v8.6M825.92 771.6v8.6M854.54 771.6v8.6M962.8 86.1h8.6M962.8 223.31h8.6M962.8 360.52h8.6M962.8 497.73h8.6M962.8 634.94h8.6" stroke="#000" stroke-width="1.9" fill="none"/>
<rect x="928.1" y="86.1" width="34.7" height="685.5" fill="url(#hot)"/>
<g font-family='"DejaVu Sans", "Liberation Sans", sans-serif' font-size="23.4" fill="#000">
<g text-anchor="end">
<text transform="translate(93.3,96.67) scale(0.975,1.07)">0</text>
<text transform="translate(93.3,123.45) scale(0.975,1.07)">20</text>
<text transform="translate(93.3,150.22) scale(0.975,1.07)">40</text>
<text transform="translate(93.3,177) scale(0.975,1.07)">60</text>
<text transform="translate(93.3,203.78) scale(0.975,1.07)">80</text>
<text transform="translate(93.3,230.56) scale(0.975,1.07)">100</text>
<text transform="translate(93.3,257.33) scale(0.975,1.07)">120</text>
<text transform="translate(93.3,284.11) scale(0.975,1.07)">140</text>
<text transform="translate(93.3,310.89) scale(0.975,1.07)">160</text>
<text transform="translate(93.3,337.67) scale(0.975,1.07)">180</text>
<text transform="translate(93.3,364.44) scale(0.975,1.07)">200</text>
<text transform="translate(93.3,391.22) scale(0.975,1.07)">220</text>
<text transform="translate(93.3,418) scale(0.975,1.07)">240</text>
<text transform="translate(93.3,444.77) scale(0.975,1.07)">260</text>
<text transform="translate(93.3,471.55) scale(0.975,1.07)">280</text>
<text transform="translate(93.3,498.33) scale(0.975,1.07)">300</text>
<text transform="translate(93.3,525.11) scale(0.975,1.07)">320</text>
<text transform="translate(93.3,551.88) scale(0.975,1.07)">340</text>
<text transform="translate(93.3,578.66) scale(0.975,1.07)">360</text>
<text transform="translate(93.3,605.44) scale(0.975,1.07)">380</text>
<text transform="translate(93.3,632.22) scale(0.975,1.07)">400</text>
<text transform="translate(93.3,658.99) scale(0.975,1.07)">420</text>
<text transform="translate(93.3,685.77) scale(0.975,1.07)">440</text>
<text transform="translate(93.3,712.55) scale(0.975,1.07)">460</text>
<text transform="translate(93.3,739.33) scale(0.975,1.07)">480</text>
<text transform="translate(93.3,766.1) scale(0.975,1.07)">500</text>
<text transform="translate(117.35,790.4) rotate(-90) scale(0.97,1.01)">0</text>
<text transform="translate(145.97,791.5) rotate(-90) scale(0.97,1.01)">19</text>
<text transform="translate(174.59,791.5) rotate(-90) scale(0.97,1.01)">38</text>
<text transform="translate(203.21,791.5) rotate(-90) scale(0.97,1.01)">57</text>
<text transform="translate(231.83,791.5) rotate(-90) scale(0.97,1.01)">76</text>
<text transform="translate(260.45,791.5) rotate(-90) scale(0.97,1.01)">95</text>
<text transform="translate(289.07,791.5) rotate(-90) scale(0.97,1.01)">114</text>
<text transform="translate(317.68,791.5) rotate(-90) scale(0.97,1.01)">133</text>
<text transform="translate(346.3,791.5) rotate(-90) scale(0.97,1.01)">152</text>
<text transform="translate(374.92,791.5) rotate(-90) scale(0.97,1.01)">171</text>
<text transform="translate(403.54,791.5) rotate(-90) scale(0.97,1.01)">190</text>
<text transform="translate(432.16,791.5) rotate(-90) scale(0.97,1.01)">209</text>
<text transform="translate(460.78,791.5) rotate(-90) scale(0.97,1.01)">228</text>
<text transform="translate(489.4,791.5) rotate(-90) scale(0.97,1.01)">247</text>
<text transform="translate(518.02,791.5) rotate(-90) scale(0.97,1.01)">266</text>
<text transform="translate(546.63,791.5) rotate(-90) scale(0.97,1.01)">285</text>
<text transform="translate(575.25,791.5) rotate(-90) scale(0.97,1.01)">304</text>
<text transform="translate(603.87,791.5) rotate(-90) scale(0.97,1.01)">323</text>
<text transform="translate(632.49,791.5) rotate(-90) scale(0.97,1.01)">342</text>
<text transform="translate(661.11,791.5) rotate(-90) scale(0.97,1.01)">361</text>
<text transform="translate(689.73,791.5) rotate(-90) scale(0.97,1.01)">380</text>
<text transform="translate(718.35,791.5) rotate(-90) scale(0.97,1.01)">399</text>
<text transform="translate(746.97,791.5) rotate(-90) scale(0.97,1.01)">418</text>
<text transform="translate(775.58,791.5) rotate(-90) scale(0.97,1.01)">437</text>
<text transform="translate(804.2,791.5) rotate(-90) scale(0.97,1.01)">456</text>
<text transform="translate(832.82,791.5) rotate(-90) scale(0.97,1.01)">475</text>
<text transform="translate(861.44,791.5) rotate(-90) scale(0.97,1.01)">494</text>
</g>
<text transform="translate(979.1,95) scale(1,1.07)">1.0</text>
<text transform="translate(979.1,232.21) scale(1,1.07)">0.8</text>
<text transform="translate(979.1,369.42) scale(1,1.07)">0.6</text>
<text transform="translate(979.1,506.63) scale(1,1.07)">0.4</text>
<text transform="translate(979.1,643.84) scale(1,1.07)">0.2</text>
</g>
<g font-family='"DejaVu Sans", "Liberation Sans", sans-serif' font-size="35.0" fill="#000" text-anchor="middle">
<text transform="translate(495,869) scale(1,0.957)">axis index</text>
<text transform="translate(31.4,429.85) rotate(-90) scale(1,0.957)">axis index</text>
</g>
</g>
<g id="panel-b">
<rect x="1206.7" y="86.1" width="771.2" height="685.5" fill="#1e0308"/>
<rect x="1206.7" y="86.1" width="771.2" height="685.5" filter="url(#nb)"/>
<line x1="1206.7" y1="86.1" x2="1977.9" y2="771.6" stroke="#f8eaea" stroke-width="1.15" stroke-opacity="0.93"/>
<path d="M1198.1 86.77H1206.7M1198.1 113.55H1206.7M1198.1 140.32H1206.7M1198.1 167.1H1206.7M1198.1 193.88H1206.7M1198.1 220.66H1206.7M1198.1 247.43H1206.7M1198.1 274.21H1206.7M1198.1 300.99H1206.7M1198.1 327.77H1206.7M1198.1 354.54H1206.7M1198.1 381.32H1206.7M1198.1 408.1H1206.7M1198.1 434.87H1206.7M1198.1 461.65H1206.7M1198.1 488.43H1206.7M1198.1 515.21H1206.7M1198.1 541.98H1206.7M1198.1 568.76H1206.7M1198.1 595.54H1206.7M1198.1 622.32H1206.7M1198.1 649.09H1206.7M1198.1 675.87H1206.7M1198.1 702.65H1206.7M1198.1 729.43H1206.7M1198.1 756.2H1206.7M1207.45 771.6v8.6M1236.07 771.6v8.6M1264.69 771.6v8.6M1293.31 771.6v8.6M1321.93 771.6v8.6M1350.55 771.6v8.6M1379.17 771.6v8.6M1407.78 771.6v8.6M1436.4 771.6v8.6M1465.02 771.6v8.6M1493.64 771.6v8.6M1522.26 771.6v8.6M1550.88 771.6v8.6M1579.5 771.6v8.6M1608.12 771.6v8.6M1636.73 771.6v8.6M1665.35 771.6v8.6M1693.97 771.6v8.6M1722.59 771.6v8.6M1751.21 771.6v8.6M1779.83 771.6v8.6M1808.45 771.6v8.6M1837.07 771.6v8.6M1865.68 771.6v8.6M1894.3 771.6v8.6M1922.92 771.6v8.6M1951.54 771.6v8.6M2060.3 86.1h8.6M2060.3 223.31h8.6M2060.3 360.52h8.6M2060.3 497.73h8.6M2060.3 634.94h8.6" stroke="#000" stroke-width="1.9" fill="none"/>
<rect x="2025.6" y="86.1" width="34.7" height="685.5" fill="url(#hot)"/>
<g font-family='"DejaVu Sans", "Liberation Sans", sans-serif' font-size="23.4" fill="#000">
<g text-anchor="end">
<text transform="translate(1189.4,96.67) scale(0.975,1.07)">0</text>
<text transform="translate(1189.4,123.45) scale(0.975,1.07)">20</text>
<text transform="translate(1189.4,150.22) scale(0.975,1.07)">40</text>
<text transform="translate(1189.4,177) scale(0.975,1.07)">60</text>
<text transform="translate(1189.4,203.78) scale(0.975,1.07)">80</text>
<text transform="translate(1189.4,230.56) scale(0.975,1.07)">100</text>
<text transform="translate(1189.4,257.33) scale(0.975,1.07)">120</text>
<text transform="translate(1189.4,284.11) scale(0.975,1.07)">140</text>
<text transform="translate(1189.4,310.89) scale(0.975,1.07)">160</text>
<text transform="translate(1189.4,337.67) scale(0.975,1.07)">180</text>
<text transform="translate(1189.4,364.44) scale(0.975,1.07)">200</text>
<text transform="translate(1189.4,391.22) scale(0.975,1.07)">220</text>
<text transform="translate(1189.4,418) scale(0.975,1.07)">240</text>
<text transform="translate(1189.4,444.77) scale(0.975,1.07)">260</text>
<text transform="translate(1189.4,471.55) scale(0.975,1.07)">280</text>
<text transform="translate(1189.4,498.33) scale(0.975,1.07)">300</text>
<text transform="translate(1189.4,525.11) scale(0.975,1.07)">320</text>
<text transform="translate(1189.4,551.88) scale(0.975,1.07)">340</text>
<text transform="translate(1189.4,578.66) scale(0.975,1.07)">360</text>
<text transform="translate(1189.4,605.44) scale(0.975,1.07)">380</text>
<text transform="translate(1189.4,632.22) scale(0.975,1.07)">400</text>
<text transform="translate(1189.4,658.99) scale(0.975,1.07)">420</text>
<text transform="translate(1189.4,685.77) scale(0.975,1.07)">440</text>
<text transform="translate(1189.4,712.55) scale(0.975,1.07)">460</text>
<text transform="translate(1189.4,739.33) scale(0.975,1.07)">480</text>
<text transform="translate(1189.4,766.1) scale(0.975,1.07)">500</text>
<text transform="translate(1215.65,790.4) rotate(-90) scale(0.97,1.01)">0</text>
<text transform="translate(1244.27,791.5) rotate(-90) scale(0.97,1.01)">19</text>
<text transform="translate(1272.89,791.5) rotate(-90) scale(0.97,1.01)">38</text>
<text transform="translate(1301.51,791.5) rotate(-90) scale(0.97,1.01)">57</text>
<text transform="translate(1330.13,791.5) rotate(-90) scale(0.97,1.01)">76</text>
<text transform="translate(1358.75,791.5) rotate(-90) scale(0.97,1.01)">95</text>
<text transform="translate(1387.37,791.5) rotate(-90) scale(0.97,1.01)">114</text>
<text transform="translate(1415.98,791.5) rotate(-90) scale(0.97,1.01)">133</text>
<text transform="translate(1444.6,791.5) rotate(-90) scale(0.97,1.01)">152</text>
<text transform="translate(1473.22,791.5) rotate(-90) scale(0.97,1.01)">171</text>
<text transform="translate(1501.84,791.5) rotate(-90) scale(0.97,1.01)">190</text>
<text transform="translate(1530.46,791.5) rotate(-90) scale(0.97,1.01)">209</text>
<text transform="translate(1559.08,791.5) rotate(-90) scale(0.97,1.01)">228</text>
<text transform="translate(1587.7,791.5) rotate(-90) scale(0.97,1.01)">247</text>
<text transform="translate(1616.32,791.5) rotate(-90) scale(0.97,1.01)">266</text>
<text transform="translate(1644.93,791.5) rotate(-90) scale(0.97,1.01)">285</text>
<text transform="translate(1673.55,791.5) rotate(-90) scale(0.97,1.01)">304</text>
<text transform="translate(1702.17,791.5) rotate(-90) scale(0.97,1.01)">323</text>
<text transform="translate(1730.79,791.5) rotate(-90) scale(0.97,1.01)">342</text>
<text transform="translate(1759.41,791.5) rotate(-90) scale(0.97,1.01)">361</text>
<text transform="translate(1788.03,791.5) rotate(-90) scale(0.97,1.01)">380</text>
<text transform="translate(1816.65,791.5) rotate(-90) scale(0.97,1.01)">399</text>
<text transform="translate(1845.27,791.5) rotate(-90) scale(0.97,1.01)">418</text>
<text transform="translate(1873.88,791.5) rotate(-90) scale(0.97,1.01)">437</text>
<text transform="translate(1902.5,791.5) rotate(-90) scale(0.97,1.01)">456</text>
<text transform="translate(1931.12,791.5) rotate(-90) scale(0.97,1.01)">475</text>
<text transform="translate(1959.74,791.5) rotate(-90) scale(0.97,1.01)">494</text>
</g>
<text transform="translate(2076.6,95) scale(1,1.07)">1.0</text>
<text transform="translate(2076.6,232.21) scale(1,1.07)">0.8</text>
<text transform="translate(2076.6,369.42) scale(1,1.07)">0.6</text>
<text transform="translate(2076.6,506.63) scale(1,1.07)">0.4</text>
<text transform="translate(2076.6,643.84) scale(1,1.07)">0.2</text>
</g>
<g font-family='"DejaVu Sans", "Liberation Sans", sans-serif' font-size="35.0" fill="#000" text-anchor="middle">
<text transform="translate(1592,869) scale(1,0.957)">axis index</text>
<text transform="translate(1127.5,429.85) rotate(-90) scale(1,0.957)">axis index</text>
</g>
</g>
</svg>
</body>
</html>
